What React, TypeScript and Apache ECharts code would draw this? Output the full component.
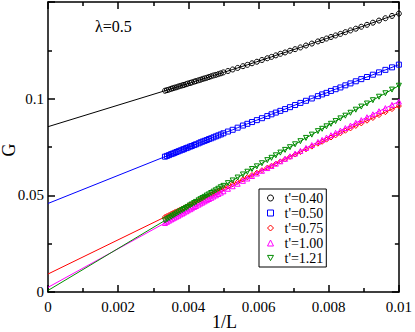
import { useEffect, useRef } from "react";
import * as echarts from "echarts";

// System sizes L (x axis shows 1/L)
const sizes = [100, 102, 104, 106, 108, 110, 112, 114, 116, 118, 120, 122, 124, 126, 128, 130, 133, 136, 139, 142, 145, 148, 151, 154, 157, 160, 164, 168, 172, 176, 180, 185, 190, 195,
  200, 203, 206, 209, 212, 215, 218, 221, 224, 227, 230, 233, 237, 240, 244, 247, 251, 254, 258, 261, 265, 269, 273, 277, 281, 285, 290, 295, 300];

const gT040 = [0.1440, 0.1428, 0.1416, 0.1404, 0.1393, 0.1382, 0.1372, 0.1362, 0.1353, 0.1344, 0.1335, 0.1327, 0.1319, 0.1311, 0.1303, 0.1296, 0.1285, 0.1275, 0.1265, 0.1256, 0.1248, 0.1239, 0.1232, 0.1224, 0.1216, 0.1209, 0.1200, 0.1191, 0.1183, 0.1175, 0.1168, 0.1159, 0.1151, 0.1143,
  0.1136, 0.1131, 0.1127, 0.1123, 0.1120, 0.1116, 0.1112, 0.1108, 0.1105, 0.1102, 0.1098, 0.1095, 0.1091, 0.1088, 0.1084, 0.1081, 0.1078, 0.1075, 0.1071, 0.1069, 0.1066, 0.1063, 0.1059, 0.1057, 0.1054, 0.1051, 0.1047, 0.1044, 0.1041];
const gT050 = [0.1176, 0.1162, 0.1149, 0.1136, 0.1124, 0.1112, 0.1101, 0.1090, 0.1079, 0.1069, 0.1058, 0.1049, 0.1040, 0.1030, 0.1022, 0.1013, 0.1001, 0.0989, 0.0978, 0.0967, 0.0956, 0.0946, 0.0937, 0.0928, 0.0919, 0.0910, 0.0899, 0.0889, 0.0879, 0.0870, 0.0861, 0.0850, 0.0839, 0.0830,
  0.0821, 0.0815, 0.0810, 0.0805, 0.0800, 0.0795, 0.0791, 0.0786, 0.0782, 0.0778, 0.0774, 0.0769, 0.0764, 0.0760, 0.0755, 0.0752, 0.0747, 0.0744, 0.0739, 0.0736, 0.0732, 0.0728, 0.0724, 0.0720, 0.0716, 0.0713, 0.0708, 0.0704, 0.0700];
const gT075 = [0.0962, 0.0946, 0.0930, 0.0915, 0.0900, 0.0886, 0.0872, 0.0859, 0.0846, 0.0834, 0.0821, 0.0810, 0.0799, 0.0788, 0.0777, 0.0767, 0.0752, 0.0738, 0.0724, 0.0711, 0.0699, 0.0687, 0.0675, 0.0664, 0.0653, 0.0643, 0.0630, 0.0617, 0.0605, 0.0594, 0.0583, 0.0570, 0.0558, 0.0546,
  0.0536, 0.0528, 0.0523, 0.0516, 0.0510, 0.0504, 0.0498, 0.0493, 0.0488, 0.0482, 0.0477, 0.0473, 0.0466, 0.0461, 0.0455, 0.0451, 0.0446, 0.0441, 0.0436, 0.0432, 0.0427, 0.0422, 0.0417, 0.0413, 0.0408, 0.0404, 0.0398, 0.0393, 0.0388];
const gT100 = [0.0985, 0.0968, 0.0951, 0.0935, 0.0919, 0.0904, 0.0889, 0.0875, 0.0861, 0.0848, 0.0835, 0.0823, 0.0811, 0.0799, 0.0787, 0.0776, 0.0760, 0.0745, 0.0730, 0.0716, 0.0702, 0.0689, 0.0676, 0.0664, 0.0652, 0.0641, 0.0627, 0.0613, 0.0600, 0.0587, 0.0575, 0.0560, 0.0547, 0.0534,
  0.0521, 0.0514, 0.0507, 0.0500, 0.0494, 0.0487, 0.0481, 0.0475, 0.0469, 0.0463, 0.0458, 0.0452, 0.0445, 0.0440, 0.0433, 0.0428, 0.0422, 0.0417, 0.0411, 0.0406, 0.0401, 0.0395, 0.0390, 0.0385, 0.0380, 0.0375, 0.0369, 0.0363, 0.0357];
const gT121 = [0.1067, 0.1047, 0.1028, 0.1010, 0.0992, 0.0975, 0.0959, 0.0943, 0.0927, 0.0912, 0.0898, 0.0884, 0.0870, 0.0857, 0.0844, 0.0832, 0.0814, 0.0797, 0.0780, 0.0764, 0.0749, 0.0735, 0.0721, 0.0707, 0.0694, 0.0682, 0.0666, 0.0650, 0.0636, 0.0622, 0.0608, 0.0592, 0.0577, 0.0563,
  0.0549, 0.0542, 0.0534, 0.0526, 0.0519, 0.0512, 0.0505, 0.0499, 0.0492, 0.0486, 0.0480, 0.0474, 0.0466, 0.0460, 0.0453, 0.0448, 0.0440, 0.0435, 0.0429, 0.0424, 0.0418, 0.0412, 0.0406, 0.0400, 0.0395, 0.0389, 0.0382, 0.0376, 0.0370];

// Extrapolated G at 1/L = 0 (fit lines)
const intercepts = [0.0855, 0.0458, 0.0093, 0.0024, 0.0008];

const seriesNames = ["t'=0.40", "t'=0.50", "t'=0.75", "t'=1.00", "t'=1.21"];
const seriesColors = ["#000000", "#0000ff", "#ff0000", "#ff00ff", "#008b00"];
const seriesSymbols = ["circle", "rect", "diamond", "triangle", "path://M0,0L20,0L10,17.32Z"];

export default function App() {
  const ref = useRef<HTMLDivElement>(null);
  useEffect(() => {
    if (!ref.current) return;
    const chart = echarts.init(ref.current, null, { renderer: "svg" });
    const font = "Liberation Serif, Times New Roman, serif";
    const values = [gT040, gT050, gT075, gT100, gT121];
    const lMax = Math.max(...sizes);
    const iMax = sizes.indexOf(lMax);

    const fitSeries = values.map((vals, i) => ({
      type: "line",
      xAxisIndex: 0,
      yAxisIndex: 0,
      data: [
        [0, intercepts[i]],
        [1 / lMax, vals[iMax]],
      ],
      symbol: "none",
      lineStyle: { color: seriesColors[i], width: 1 },
      silent: true,
      z: 2,
    }));

    const dataSeries = values.map((vals, i) => ({
      name: seriesNames[i],
      type: "line",
      xAxisIndex: 0,
      yAxisIndex: 0,
      data: sizes.map((L, k) => [1 / L, vals[k]]),
      symbol: seriesSymbols[i],
      symbolSize: 5,
      showAllSymbol: true,
      lineStyle: { color: seriesColors[i], width: 1 },
      itemStyle: { color: "rgba(255,255,255,0)", borderColor: seriesColors[i], borderWidth: 1 },
      emphasis: { disabled: true },
      silent: true,
      z: 3,
    }));

    const axisLine = { show: true, onZero: false, lineStyle: { color: "#000", width: 1.5 } };
    const axisTick = { show: true, inside: true, length: 7, lineStyle: { color: "#000", width: 1.5 } };
    const minorTick = { show: true, splitNumber: 2, length: 4, lineStyle: { color: "#000", width: 1.5 } };

    chart.setOption({
      animation: false,
      backgroundColor: "#fff",
      textStyle: { fontFamily: font },
      grid: { left: 48, top: 2, right: 14, bottom: 40, containLabel: false },
      xAxis: [
        {
          type: "value",
          position: "bottom",
          min: 0,
          max: 0.01,
          interval: 0.002,
          axisLine,
          axisTick,
          minorTick,
          splitLine: { show: false },
          axisLabel: {
            show: true,
            fontSize: 15,
            fontFamily: font,
            color: "#000",
            margin: 7,
            formatter: (v: number) => String(+v.toFixed(4)),
          },
        },
        {
          type: "value",
          position: "top",
          min: 0,
          max: 0.01,
          interval: 0.002,
          axisLine,
          axisTick,
          minorTick,
          splitLine: { show: false },
          axisLabel: { show: false },
        },
      ],
      yAxis: [
        {
          type: "value",
          position: "left",
          min: 0,
          max: 0.15,
          interval: 0.05,
          axisLine,
          axisTick,
          minorTick,
          splitLine: { show: false },
          axisLabel: {
            show: true,
            fontSize: 15,
            fontFamily: font,
            color: "#000",
            margin: 4,
            formatter: (v: number) => (v > 0.149 ? "" : String(+v.toFixed(3))),
          },
        },
        {
          type: "value",
          position: "right",
          min: 0,
          max: 0.15,
          interval: 0.05,
          axisLine,
          axisTick,
          minorTick,
          splitLine: { show: false },
          axisLabel: { show: false },
        },
      ],
      legend: {
        show: true,
        orient: "vertical",
        left: 259,
        top: 189,
        backgroundColor: "#fff",
        borderColor: "#000",
        borderWidth: 1,
        borderRadius: 0,
        padding: [2, 3, 2, 8],
        itemGap: 1,
        itemWidth: 6,
        itemHeight: 6,
        selectedMode: false,
        itemStyle: { borderWidth: 1 },
        textStyle: { fontSize: 14, fontFamily: font, color: "#000", padding: [0, 0, 0, 6] },
        data: seriesNames.map((n, i) => ({ name: n, icon: seriesSymbols[i] })),
      },
      graphic: [
        {
          type: "text",
          x: 95,
          y: 26,
          style: { text: "λ=0.5", font: `16px ${font}`, fill: "#000", align: "left", verticalAlign: "middle" },
        },
        {
          type: "text",
          x: 224.5,
          y: 321.5,
          style: { text: "1/L", font: `18px ${font}`, fill: "#000", align: "center", verticalAlign: "middle" },
        },
        {
          type: "text",
          x: 9,
          y: 150,
          rotation: Math.PI / 2,
          style: { text: "G", font: `18px ${font}`, fill: "#000", align: "center", verticalAlign: "middle" },
        },
      ],
      series: [...fitSeries, ...dataSeries],
    });
    return () => chart.dispose();
  }, []);
  return (
    <div
      ref={ref}
      style={{ position: "fixed", left: 0, top: 0, width: 415, height: 332, background: "#fff" }}
    />
  );
}
